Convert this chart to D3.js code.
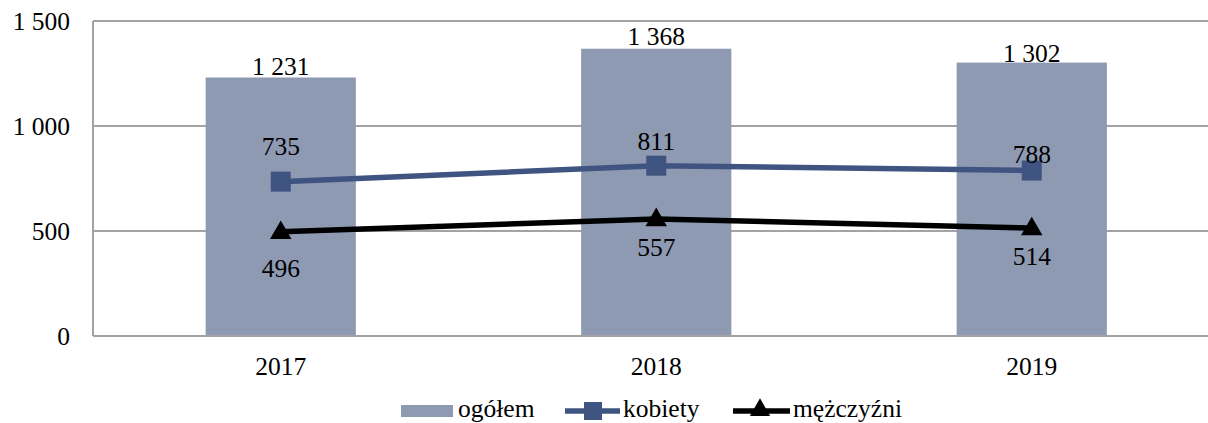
<!DOCTYPE html>
<html>
<head>
<meta charset="utf-8">
<script src="https://cdn.jsdelivr.net/npm/d3@7"></script>
<style>
  body { margin: 0; background: #fff; }
  svg { display: block; font-family: "Liberation Serif", "Times New Roman", serif; }
  .grid line { stroke: #a3a3a3; stroke-width: 2; }
</style>
</head>
<body>
<svg id="chart" width="1208" height="423"></svg>
<script>
// data
var years = ["2017", "2018", "2019"];
var ogolem = [1231, 1368, 1302];
var kobiety = [735, 811, 788];
var mezczyzni = [496, 557, 514];
var yTicks = [0, 500, 1000, 1500];

// label nudges (px, relative to point) as placed in the original
var ogolemDy = [-2, -4, -1];
var kobietyDy = [-27, -16, -8];
var mezczyzniDy = [45, 37, 37];

var svg = d3.select("#chart"),
  width = 1208,
  margin = { top: 21, left: 93 },
  plotBottom = 336,
  plotRight = 1219.5,
  fontSize = 25.5;

var barColor = "#8e9ab2",
  kobColor = "#3f5480",
  menColor = "#000";

var x = d3.scaleBand()
  .domain(years)
  .range([margin.left, plotRight])
  .paddingInner(0.6)
  .paddingOuter(0.3);

var y = d3.scaleLinear()
  .domain([0, 1500])
  .range([plotBottom, margin.top]);

var fmt = function(v) { return d3.format(",")(v).replace(/,/g, " "); };

// gridlines
svg.append("g")
  .attr("class", "grid")
  .selectAll("line")
  .data(yTicks)
  .enter().append("line")
    .attr("x1", margin.left)
    .attr("x2", width)
    .attr("y1", function(d) { return y(d); })
    .attr("y2", function(d) { return y(d); });

// bars
svg.append("g")
  .selectAll("rect")
  .data(ogolem)
  .enter().append("rect")
    .attr("x", function(d, i) { return x(years[i]); })
    .attr("y", function(d) { return y(d); })
    .attr("width", x.bandwidth())
    .attr("height", function(d) { return plotBottom - y(d); })
    .attr("fill", barColor);

// axes lines (left + bottom)
svg.append("line")
  .attr("x1", margin.left).attr("x2", margin.left)
  .attr("y1", margin.top).attr("y2", plotBottom)
  .attr("stroke", "#a3a3a3").attr("stroke-width", 2);
svg.append("line")
  .attr("x1", margin.left).attr("x2", width)
  .attr("y1", plotBottom).attr("y2", plotBottom)
  .attr("stroke", "#a3a3a3").attr("stroke-width", 2);

// y axis labels
var yAxis = d3.axisLeft(y)
  .tickValues(yTicks)
  .tickSize(0)
  .tickPadding(23)
  .tickFormat(fmt);
var gy = svg.append("g")
  .attr("transform", "translate(" + margin.left + ",0)")
  .call(yAxis);
gy.select(".domain").remove();
gy.selectAll("text")
  .attr("font-family", "Liberation Serif")
  .attr("font-size", fontSize)
  .attr("fill", "#000")
  .attr("dy", "0.33em");

// x axis labels
var xAxis = d3.axisBottom(x).tickSize(0).tickPadding(0);
var gx = svg.append("g")
  .attr("transform", "translate(0," + plotBottom + ")")
  .call(xAxis);
gx.select(".domain").remove();
gx.selectAll("text")
  .attr("font-family", "Liberation Serif")
  .attr("font-size", fontSize)
  .attr("fill", "#000")
  .attr("y", 39)
  .attr("dy", 0);

var cx = function(i) { return x(years[i]) + x.bandwidth() / 2; };

var line = d3.line()
  .x(function(d, i) { return cx(i); })
  .y(function(d) { return y(d); });

// kobiety
svg.append("path")
  .datum(kobiety)
  .attr("d", line)
  .attr("fill", "none")
  .attr("stroke", kobColor)
  .attr("stroke-width", 5.5);
svg.append("g")
  .selectAll("rect")
  .data(kobiety)
  .enter().append("rect")
    .attr("x", function(d, i) { return cx(i) - 10; })
    .attr("y", function(d) { return y(d) - 10; })
    .attr("width", 20)
    .attr("height", 20)
    .attr("fill", kobColor);

// mezczyzni
svg.append("path")
  .datum(mezczyzni)
  .attr("d", line)
  .attr("fill", "none")
  .attr("stroke", menColor)
  .attr("stroke-width", 5.5);
var tri = d3.symbol().type(d3.symbolTriangle).size(200);
svg.append("g")
  .selectAll("path")
  .data(mezczyzni)
  .enter().append("path")
    .attr("d", tri)
    .attr("transform", function(d, i) { return "translate(" + cx(i) + "," + (y(d) + 1) + ")"; })
    .attr("fill", menColor);

// data labels
function labels(vals, dys) {
  svg.append("g")
    .selectAll("text")
    .data(vals)
    .enter().append("text")
      .attr("x", function(d, i) { return cx(i); })
      .attr("y", function(d, i) { return y(d) + dys[i]; })
      .attr("text-anchor", "middle")
      .attr("font-size", fontSize)
      .text(fmt);
}
labels(ogolem, ogolemDy);
labels(kobiety, kobietyDy);
labels(mezczyzni, mezczyzniDy);

// legend
var leg = svg.append("g").attr("font-size", fontSize);
leg.append("rect").attr("x", 401).attr("y", 405).attr("width", 52).attr("height", 12).attr("fill", barColor);
leg.append("text").attr("x", 458).attr("y", 417).text("ogółem");

leg.append("line").attr("x1", 565).attr("x2", 620).attr("y1", 411).attr("y2", 411)
  .attr("stroke", kobColor).attr("stroke-width", 5.5);
leg.append("rect").attr("x", 584).attr("y", 402).attr("width", 18).attr("height", 18).attr("fill", kobColor);
leg.append("text").attr("x", 623).attr("y", 417).text("kobiety");

leg.append("line").attr("x1", 733).attr("x2", 790).attr("y1", 411).attr("y2", 411)
  .attr("stroke", menColor).attr("stroke-width", 5.5);
leg.append("path").attr("d", d3.symbol().type(d3.symbolTriangle).size(180))
  .attr("transform", "translate(760,410)").attr("fill", menColor);
leg.append("text").attr("x", 793).attr("y", 417).text("mężczyźni");
</script>
</body>
</html>
